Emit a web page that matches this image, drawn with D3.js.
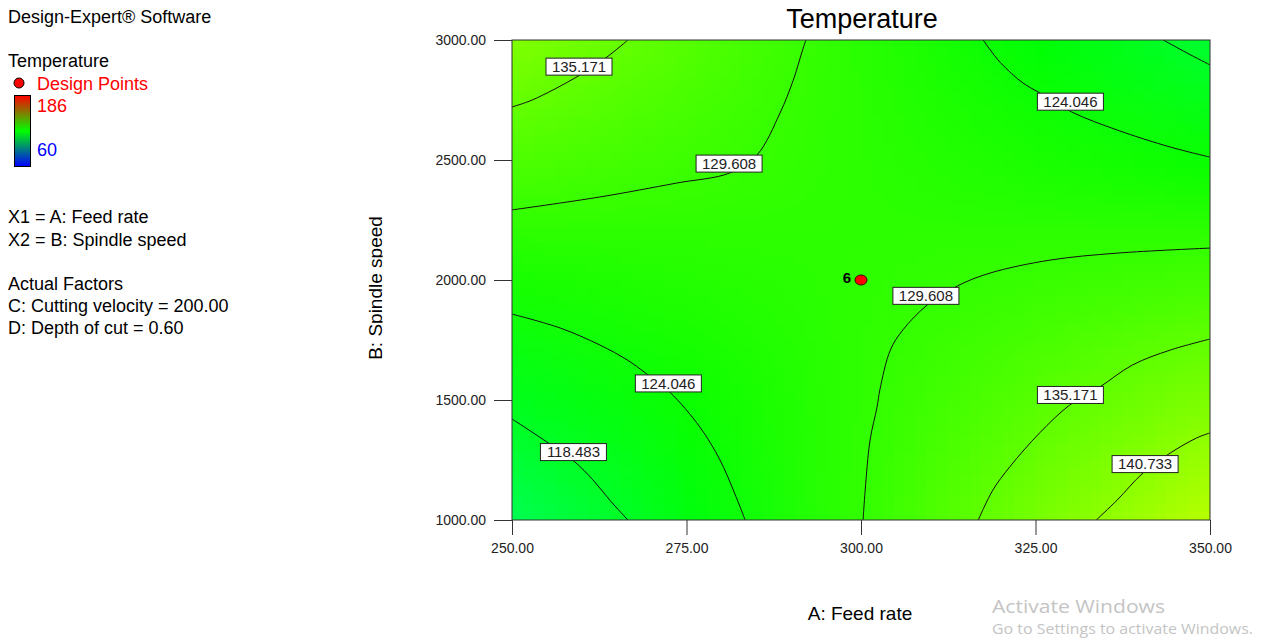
<!DOCTYPE html>
<html>
<head>
<meta charset="utf-8">
<script src="https://cdn.jsdelivr.net/npm/d3@7"></script>
<style>
body { margin: 0; background: #fff; }
svg { display: block; font-family: "Liberation Sans", Arial, sans-serif; }
</style>
</head>
<body>
<div id="chart"></div>
<script>
// grid nodes (tick positions) and temperature read at each node
const feedRate = [250, 275, 300, 325, 350];
const spindleSpeed = [3000, 2500, 2000, 1500, 1000];
const tempGrid = [
  [138.6, 133.3, 127.9, 122.4, 117.0],
  [132.4, 130.4, 128.3, 126.2, 124.1],
  [125.9, 127.3, 128.7, 130.1, 131.6],
  [119.5, 124.3, 129.1, 134.0, 138.8],
  [113.0, 121.3, 129.4, 137.9, 146.1]
];
const tempRange = [60, 186];

// contour lines: [feed rate, spindle speed]
const c118Top = [[343.3, 3000], [346.7, 2946], [350, 2896]];
const c124Top = [[317.5, 3000], [319.9, 2908], [323.2, 2821], [325.4, 2783], [330.2, 2700], [336.7, 2625], [344.3, 2554], [350, 2512]];
const c129Top = [[250, 2292], [262.6, 2346], [273.6, 2404], [281.2, 2446], [285.1, 2521], [288.4, 2696], [290.3, 2833], [291.5, 2946], [292.1, 3000]];
const c135Top = [[250, 2721], [252.9, 2750], [259.5, 2850], [263.6, 2929], [266.6, 3000]];
const c118Low = [[250, 1421], [255.2, 1321], [259.0, 1242], [261.6, 1167], [264.0, 1083], [266.6, 1000]];
const c124Low = [[250, 1858], [256.9, 1800], [262.6, 1729], [266.5, 1667], [269.1, 1613], [272.6, 1533], [276.9, 1388], [279.8, 1250], [281.7, 1125], [283.4, 1000]];
const c129Low = [[300.3, 1000], [300.6, 1125], [301.3, 1333], [302.3, 1471], [302.7, 1542], [304.2, 1708], [306.0, 1792], [309.5, 1896], [313.8, 1975], [318.5, 2029], [327.1, 2083], [336.7, 2112], [350, 2133]];
const c135Low = [[316.8, 1000], [318.9, 1125], [321.3, 1221], [325.6, 1363], [329.9, 1479], [334.2, 1554], [338.9, 1646], [344.3, 1708], [350, 1754]];
const c140Low = [[333.7, 1000], [336.7, 1083], [340.4, 1196], [344.3, 1279], [348.1, 1342], [350, 1363]];

const labelText = ["135.171", "129.608", "124.046", "124.046", "118.483", "129.608", "135.171", "140.733"];
const labelA = [259.6, 281.1, 330.0, 272.4, 258.8, 309.3, 330.0, 340.7];
const labelB = [2889, 2485, 2743, 1569, 1283, 1934, 1521, 1233];

const designA = [300];
const designB = [2000];
const designRun = ["6"];

const xTicks = [250, 275, 300, 325, 350];
const yTicks = [1000, 1500, 2000, 2500, 3000];

const legendLines = [
  ["X1 = A: Feed rate", 223],
  ["X2 = B: Spindle speed", 246],
  ["Actual Factors", 290],
  ["C: Cutting velocity = 200.00", 312],
  ["D: Depth of cut = 0.60", 334]
];

const W = 1264, H = 643;
const svg = d3.select("#chart").append("svg")
  .attr("width", W).attr("height", H);

const x = d3.scaleLinear().domain([250, 350]).range([512, 1210]);
const y = d3.scaleLinear().domain([1000, 3000]).range([520, 40]);

// colour ramp blue -> cyan -> green -> yellow -> red
const mid = (tempRange[0] + tempRange[1]) / 2;
const color = d3.scaleLinear()
  .domain([tempRange[0], (tempRange[0] + mid) / 2, mid, (mid + tempRange[1]) / 2, tempRange[1]])
  .range(["#0000ff", "#00ffff", "#00ff00", "#ffff00", "#ff0000"]);

const defs = svg.append("defs");
defs.append("clipPath").attr("id", "plotClip")
  .append("rect")
  .attr("x", x(250)).attr("y", y(3000))
  .attr("width", x(350) - x(250)).attr("height", y(1000) - y(3000));

// background field: tiny canvas, one pixel per grid node, smoothed by the browser
const cv = document.createElement("canvas");
cv.width = feedRate.length; cv.height = spindleSpeed.length;
const ctx = cv.getContext("2d");
tempGrid.forEach((row, j) => row.forEach((v, i) => {
  ctx.fillStyle = color(v);
  ctx.fillRect(i, j, 1, 1);
}));
const dA = (feedRate[1] - feedRate[0]) / 2;
const dB = (spindleSpeed[0] - spindleSpeed[1]) / 2;
svg.append("image")
  .attr("href", cv.toDataURL())
  .attr("x", x(250 - dA)).attr("y", y(3000 + dB))
  .attr("width", x(350 + dA) - x(250 - dA))
  .attr("height", y(1000 - dB) - y(3000 + dB))
  .attr("preserveAspectRatio", "none")
  .attr("clip-path", "url(#plotClip)");

// contour lines
const line = d3.line()
  .x(d => x(d[0]))
  .y(d => y(d[1]))
  .curve(d3.curveCatmullRom);

const contours = [c118Top, c124Top, c129Top, c135Top, c118Low, c124Low, c129Low, c135Low, c140Low];
svg.append("g").attr("clip-path", "url(#plotClip)")
  .selectAll("path").data(contours).join("path")
  .attr("d", line)
  .attr("fill", "none")
  .attr("stroke", "#111")
  .attr("stroke-width", 1);

// frame
svg.append("rect")
  .attr("x", x(250)).attr("y", y(3000))
  .attr("width", x(350) - x(250)).attr("height", y(1000) - y(3000))
  .attr("fill", "none").attr("stroke", "#333").attr("stroke-width", 1);

// axes
const fmt = d3.format(".2f");
const yAxis = svg.append("g")
  .attr("transform", `translate(${x(250)},0)`)
  .call(d3.axisLeft(y).tickValues(yTicks).tickFormat(fmt).tickSize(18).tickPadding(8));
const xAxis = svg.append("g")
  .attr("transform", `translate(0,${y(1000)})`)
  .call(d3.axisBottom(x).tickValues(xTicks).tickFormat(fmt).tickSize(15).tickPadding(8));
[xAxis, yAxis].forEach(g => {
  g.select(".domain").remove();
  g.selectAll("line").attr("stroke", "#333");
  g.selectAll("text").attr("fill", "#222")
    .style("font-size", "14px")
    .style("font-family", "'Liberation Sans', Arial, sans-serif");
});

// contour labels
const labels = svg.append("g").selectAll("g")
  .data(labelText).join("g")
  .attr("transform", (d, i) => `translate(${x(labelA[i])},${y(labelB[i])})`);
labels.append("rect")
  .attr("x", -33).attr("y", -8.5).attr("width", 66).attr("height", 17)
  .attr("fill", "#fff").attr("stroke", "#222").attr("stroke-width", 1);
labels.append("text")
  .attr("text-anchor", "middle").attr("dy", "0.36em")
  .style("font-size", "15px").attr("fill", "#222")
  .text(d => d);

// design point
svg.selectAll("ellipse.dp").data(designA).join("ellipse")
  .attr("class", "dp")
  .attr("cx", d => x(d)).attr("cy", (d, i) => y(designB[i]))
  .attr("rx", 6).attr("ry", 5)
  .attr("fill", "#ff0000").attr("stroke", "#400").attr("stroke-width", 1);
svg.selectAll("text.dpl").data(designA).join("text")
  .attr("class", "dpl")
  .attr("x", d => x(d) - 10).attr("y", (d, i) => y(designB[i]) + 3)
  .attr("text-anchor", "end")
  .style("font-size", "15px").style("font-weight", "bold")
  .text((d, i) => designRun[i]);

// titles
svg.append("text")
  .attr("x", 862).attr("y", 28)
  .attr("text-anchor", "middle")
  .style("font-size", "27px")
  .text("Temperature");
svg.append("text")
  .attr("x", 860).attr("y", 620)
  .attr("text-anchor", "middle")
  .style("font-size", "19px")
  .text("A: Feed rate");

defs.append("clipPath").attr("id", "yLabClip")
  .append("rect").attr("x", 340).attr("y", 150).attr("width", 42.5).attr("height", 280);
svg.append("g").attr("clip-path", "url(#yLabClip)")
  .append("text")
  .attr("transform", "translate(382,288) rotate(-90)")
  .attr("text-anchor", "middle")
  .style("font-size", "19px")
  .text("B: Spindle speed");

// left-hand legend panel
const side = svg.append("g").style("font-size", "18px");
side.append("text").attr("x", 8).attr("y", 23).text("Design-Expert\u00ae Software");
side.append("text").attr("x", 8).attr("y", 67).text("Temperature");
side.append("circle").attr("cx", 19).attr("cy", 83).attr("r", 5)
  .attr("fill", "#ff0000").attr("stroke", "#000");
side.append("text").attr("x", 37).attr("y", 90).attr("fill", "#ff0000").text("Design Points");

const grad = defs.append("linearGradient").attr("id", "barGrad")
  .attr("x1", 0).attr("x2", 0).attr("y1", 0).attr("y2", 1);
grad.append("stop").attr("offset", "0%").attr("stop-color", "#ff0000");
grad.append("stop").attr("offset", "50%").attr("stop-color", "#00ff00");
grad.append("stop").attr("offset", "100%").attr("stop-color", "#0000ff");
side.append("rect").attr("x", 14.5).attr("y", 95.5).attr("width", 16).attr("height", 71)
  .attr("fill", "url(#barGrad)").attr("stroke", "#000");
side.append("text").attr("x", 37).attr("y", 112).attr("fill", "#ff0000").text(tempRange[1]);
side.append("text").attr("x", 37).attr("y", 156).attr("fill", "#0000ff").text(tempRange[0]);

side.selectAll("text.info").data(legendLines).join("text")
  .attr("class", "info")
  .attr("x", 8).attr("y", d => d[1])
  .text(d => d[0]);

// OS watermark
svg.append("text").attr("x", 992).attr("y", 613)
  .attr("textLength", 173).attr("lengthAdjust", "spacingAndGlyphs")
  .style("font-family", "'Open Sans', 'Noto Sans', sans-serif")
  .style("font-size", "19px").attr("fill", "#c4c4c4")
  .text("Activate Windows");
svg.append("text").attr("x", 992).attr("y", 634)
  .attr("textLength", 261).attr("lengthAdjust", "spacingAndGlyphs")
  .style("font-family", "'Open Sans', 'Noto Sans', sans-serif")
  .style("font-size", "14.5px").attr("fill", "#c4c4c4")
  .text("Go to Settings to activate Windows.");
</script>
</body>
</html>
